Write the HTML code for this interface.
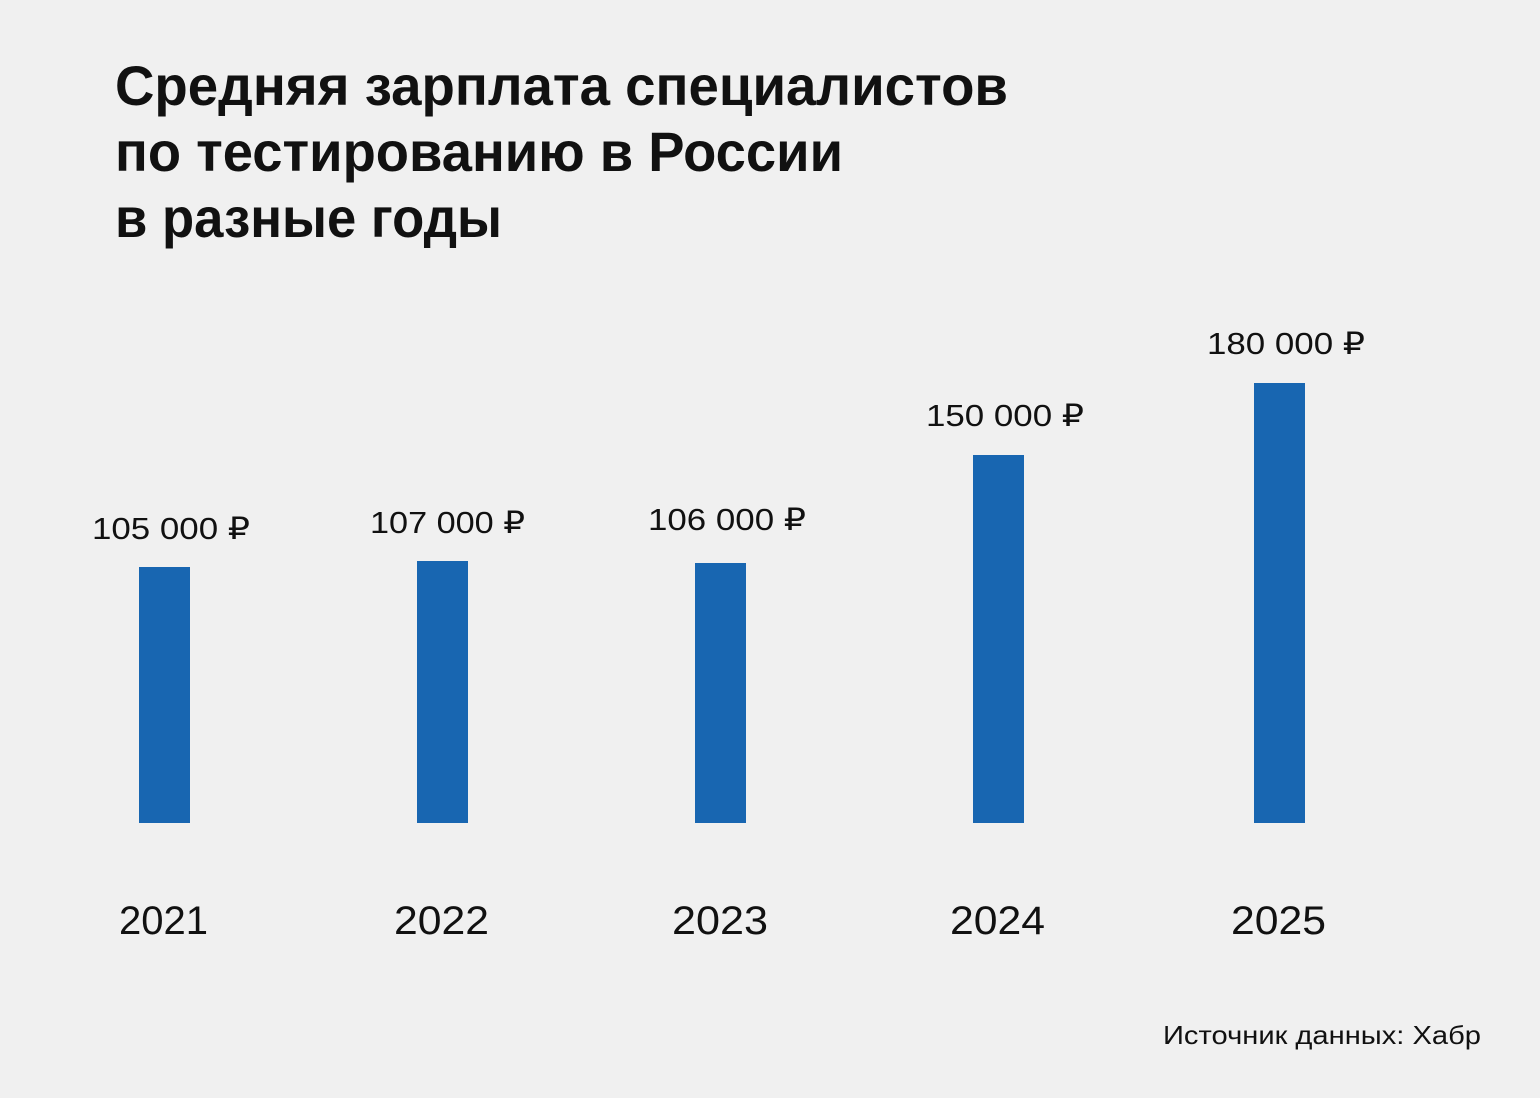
<!DOCTYPE html>
<html><head><meta charset="utf-8"><style>
html,body{margin:0;padding:0;background:#f0f0f0;}
svg{display:block}
text{font-family:"Liberation Sans","DejaVu Sans",sans-serif;fill:#111;}
</style></head><body>
<svg width="1540" height="1098" viewBox="0 0 1540 1098" xmlns="http://www.w3.org/2000/svg">
<rect width="1540" height="1098" fill="#f0f0f0"/>
<g font-weight="bold" font-size="56">
<text x="115" y="105" textLength="893" lengthAdjust="spacingAndGlyphs">Средняя зарплата специалистов</text>
<text x="115" y="171" textLength="728" lengthAdjust="spacingAndGlyphs">по тестированию в России</text>
<text x="115" y="237" textLength="387" lengthAdjust="spacingAndGlyphs">в разные годы</text>
</g>
<g fill="#1866b1">
<rect x="139" y="567" width="51" height="256"/>
<rect x="417" y="561" width="51" height="262"/>
<rect x="695" y="563" width="51" height="260"/>
<rect x="973" y="455" width="51" height="368"/>
<rect x="1254" y="383" width="51" height="440"/>
</g>
<g font-size="31">
<text x="92" y="539" textLength="158" lengthAdjust="spacingAndGlyphs">105 000 ₽</text>
<text x="370" y="533" textLength="155" lengthAdjust="spacingAndGlyphs">107 000 ₽</text>
<text x="648" y="530" textLength="158" lengthAdjust="spacingAndGlyphs">106 000 ₽</text>
<text x="926" y="426" textLength="158" lengthAdjust="spacingAndGlyphs">150 000 ₽</text>
<text x="1207" y="354" textLength="158" lengthAdjust="spacingAndGlyphs">180 000 ₽</text>
</g>
<g font-size="40">
<text x="119" y="934" textLength="89" lengthAdjust="spacingAndGlyphs">2021</text>
<text x="394" y="934" textLength="95" lengthAdjust="spacingAndGlyphs">2022</text>
<text x="672" y="934" textLength="96" lengthAdjust="spacingAndGlyphs">2023</text>
<text x="950" y="934" textLength="95" lengthAdjust="spacingAndGlyphs">2024</text>
<text x="1231" y="934" textLength="95" lengthAdjust="spacingAndGlyphs">2025</text>
</g>
<text x="1163" y="1044" font-size="26" textLength="318" lengthAdjust="spacingAndGlyphs">Источник данных: Хабр</text>
</svg>
</body></html>
